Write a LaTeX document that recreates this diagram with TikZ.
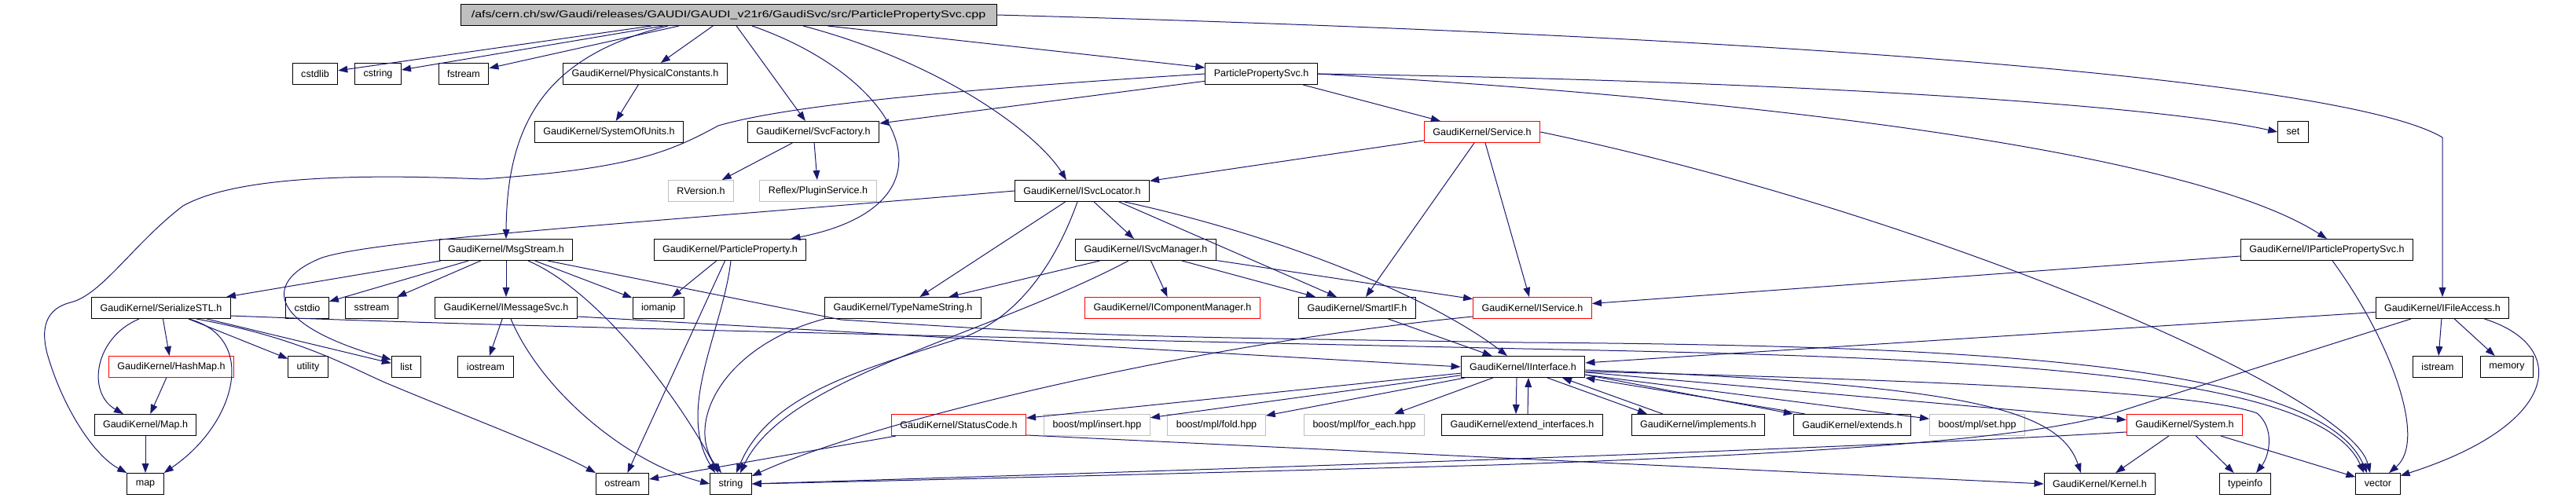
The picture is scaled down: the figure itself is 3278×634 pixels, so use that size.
\documentclass[tikz,border=0pt]{standalone}
\usepackage{fontspec}
\setmainfont{Liberation Sans}
\usepackage{tikz}
\usetikzlibrary{arrows.meta,calc}
\definecolor{EdgeBlue}{RGB}{25,25,112}
\definecolor{BoxGray}{RGB}{191,191,191}
\definecolor{TruncRed}{RGB}{255,0,0}

\begin{document}
\begin{tikzpicture}[
x=0.75pt,y=-0.75pt,
hfile/.style={draw=black,line width=0.75pt,fill=white,minimum height=20.25pt,inner xsep=8.25pt,inner ysep=0pt,font=\fontsize{9.4}{11}\selectfont},
hred/.style={hfile,draw=TruncRed},
hgray/.style={hfile,draw=BoxGray},
hroot/.style={hfile,fill=BoxGray,minimum width=511.5pt},
dep/.style={-{Triangle[length=9pt,width=6.5pt]},draw=EdgeBlue,fill=none,line width=0.75pt}
]
\useasboundingbox (0,0) rectangle (3278,634);

% row 0 and 1
\node[hroot] (root) at (927,19) {\scalebox{1.28}[1]{/afs/cern.ch/sw/Gaudi/releases/GAUDI/GAUDI\_v21r6/GaudiSvc/src/ParticlePropertySvc.cpp}};
\node[hfile] (cstdlib) at (401,94) {cstdlib};
\node[hfile] (cstring) at (481,94) {cstring};
\node[hfile] (fstream) at (590,94) {fstream};
\node[hfile] (physconst) at (821,94) {GaudiKernel/PhysicalConstants.h};
\node[hfile] (ppsvch) at (1605,94) {ParticlePropertySvc.h};
% row 2 and 3
\node[hfile] (sysunits) at (775,168) {GaudiKernel/SystemOfUnits.h};
\node[hfile] (svcfactory) at (1035,168) {GaudiKernel/SvcFactory.h};
\node[hred] (service) at (1886,168) {GaudiKernel/Service.h};
\node[hfile] (setn) at (2918,168) {set};
\node[hgray] (rversion) at (892,243) {RVersion.h};
\node[hgray] (pluginsvc) at (1041,243) {Reflex/PluginService.h};
\node[hfile] (isvcloc) at (1377,243) {GaudiKernel/ISvcLocator.h};
% row 4
\node[hfile] (msgstream) at (644,318) {GaudiKernel/MsgStream.h};
\node[hfile] (partprop) at (929,318) {GaudiKernel/ParticleProperty.h};
\node[hfile] (isvcmgr) at (1458,318) {GaudiKernel/ISvcManager.h};
\node[hfile] (ippsvc) at (2961,318) {GaudiKernel/IParticlePropertySvc.h};
% row 5
\node[hfile] (serialize) at (205,392) {GaudiKernel/SerializeSTL.h};
\node[hfile] (cstdio) at (391,392) {cstdio};
\node[hfile] (sstream) at (473,392) {sstream};
\node[hfile] (imsgsvc) at (644,392) {GaudiKernel/IMessageSvc.h};
\node[hfile] (iomanip) at (838,392) {iomanip};
\node[hfile] (typename) at (1149,392) {GaudiKernel/TypeNameString.h};
\node[hred] (icompmgr) at (1492,392) {GaudiKernel/IComponentManager.h};
\node[hfile] (smartif) at (1727,392) {GaudiKernel/SmartIF.h};
\node[hred] (iservice) at (1950,392) {GaudiKernel/IService.h};
\node[hfile] (ifileacc) at (3108,392) {GaudiKernel/IFileAccess.h};
% row 6
\node[hred] (hashmap) at (218,467) {GaudiKernel/HashMap.h};
\node[hfile] (utility) at (392,467) {utility};
\node[hfile] (listn) at (517,467) {list};
\node[hfile] (iostream) at (618,467) {iostream};
\node[hfile] (iinterface) at (1938,467) {GaudiKernel/IInterface.h};
\node[hfile] (istream) at (3102,467) {istream};
\node[hfile] (memory) at (3190,467) {memory};
% row 7
\node[hfile] (maph) at (185,541) {GaudiKernel/Map.h};
\node[hred] (statuscode) at (1220,541) {GaudiKernel/StatusCode.h};
\node[hgray] (insert) at (1396,541) {boost/mpl/insert.hpp};
\node[hgray] (fold) at (1548,541) {boost/mpl/fold.hpp};
\node[hgray] (foreach) at (1736,541) {boost/mpl/for\_each.hpp};
\node[hfile] (extendif) at (1937,541) {GaudiKernel/extend\_interfaces.h};
\node[hfile] (implements) at (2161,541) {GaudiKernel/implements.h};
\node[hfile] (extends) at (2357,541) {GaudiKernel/extends.h};
\node[hgray] (mplset) at (2516,541) {boost/mpl/set.hpp};
\node[hred] (system) at (2780,541) {GaudiKernel/System.h};
% row 8
\node[hfile] (mapn) at (185,616) {map};
\node[hfile] (ostream) at (792,616) {ostream};
\node[hfile] (stringn) at (930,616) {string};
\node[hfile] (kernel) at (2672,616) {GaudiKernel/Kernel.h};
\node[hfile] (typeinfo) at (2857,616) {typeinfo};
\node[hfile] (vector) at (3026,616) {vector};

% includes of the source file
\draw[dep] (root) -- (cstdlib);
\draw[dep] (root) -- (cstring);
\draw[dep] (root) -- (fstream);
\draw[dep] (root) -- (physconst);
\draw[dep] (root) -- (svcfactory);
\draw[dep] (root) -- (ppsvch);
\draw[dep] (root.-25) .. controls (1150,100) and (1230,260) .. ($(partprop.north east)+(-20,0)$);
\draw[dep] ($(root.south)+(95,0)$) .. controls (1200,80) and (1320,170) .. ($(isvcloc.north)+(-20,0)$);
\draw[dep] ($(root.south)+(-77,0)$) .. controls (700,70) and (645,150) .. (msgstream.north);
\draw[dep] (root.east) .. controls (2400,50) and (3000,110) .. (3108,175) -- (ifileacc.north);

% ParticlePropertySvc.h
\draw[dep] (ppsvch.west) .. controls (1200,115) and (1000,135) .. (914,160) .. controls (850,195) and (800,215) .. (614,228) .. controls (450,221) and (300,225) .. (233,262) .. controls (170,310) and (130,375) .. (90,385) .. controls (50,395) and (55,430) .. (60,450) .. controls (80,520) and (120,580) .. (mapn.north west);
\draw[dep] (ppsvch) -- (svcfactory);
\draw[dep] (ppsvch) -- (service);
\draw[dep] (ppsvch.east) .. controls (2300,103) and (2750,135) .. (setn.west);
\draw[dep] (ppsvch.east) .. controls (2300,130) and (2800,200) .. (ippsvc.north);

\draw[dep] (physconst) -- (sysunits);
\draw[dep] (svcfactory) -- (rversion);
\draw[dep] (svcfactory) -- (pluginsvc);

% Service.h
\draw[dep] (service) -- (isvcloc);
\draw[dep] ($(service.south)+(-10,0)$) -- ($(smartif.north)+(11,0)$);
\draw[dep] (service) -- (iservice);
\draw[dep] (service.east) .. controls (2450,270) and (2990,500) .. ($(vector.north)+(-10,0)$);

% ISvcLocator.h
\draw[dep] (isvcloc.west) .. controls (800,285) and (480,305) .. (410,328) .. controls (340,355) and (330,410) .. ($(listn.north west)+(0,5)$);
\draw[dep] (isvcloc) -- (typename);
\draw[dep] ($(isvcloc.south)+(-6,0)$) .. controls (1345,330) and (1300,400) .. (1230,428) .. controls (1100,470) and (980,500) .. ($(stringn.north)+(7,0)$);
\draw[dep] (isvcloc) -- (isvcmgr);
\draw[dep] ($(isvcloc.south)+(47,0)$) -- ($(smartif.north)+(-26,0)$);
\draw[dep] ($(isvcloc.south)+(54,0)$) .. controls (1650,305) and (1830,385) .. ($(iinterface.north)+(-20,0)$);

% MsgStream.h
\draw[dep] (msgstream) -- (serialize);
\draw[dep] (msgstream) -- (cstdio);
\draw[dep] (msgstream) -- (sstream);
\draw[dep] (msgstream) -- (imsgsvc);
\draw[dep] (msgstream) -- (iomanip);
\draw[dep] ($(msgstream.south)+(28,0)$) .. controls (760,370) and (860,500) .. ($(stringn.north)+(-16,0)$);
\draw[dep] ($(msgstream.south)+(53,0)$) -- (1070,407) .. controls (1400,428) .. (1938,436) .. controls (2500,440) and (2950,460) .. ($(vector.north)+(-14,0)$);

\draw[dep] (imsgsvc) -- (iostream);
\draw[dep] ($(imsgsvc.south)+(6,0)$) .. controls (690,500) and (800,590) .. (stringn.west);
\draw[dep] ($(imsgsvc.south east)+(0,-3)$) -- (iinterface.west);

\draw[dep] (partprop) -- (iomanip);
\draw[dep] (partprop) -- (ostream);
\draw[dep] ($(partprop.south)+(1,0)$) .. controls (920,420) and (860,520) .. ($(stringn.north)+(-20,0)$);

% ISvcManager.h
\draw[dep] (isvcmgr) -- (typename);
\draw[dep] ($(isvcmgr.south)+(-22,0)$) .. controls (1250,430) and (1000,480) .. ($(stringn.north)+(12,0)$);
\draw[dep] (isvcmgr) -- (icompmgr);
\draw[dep] ($(isvcmgr.south)+(46,0)$) -- ($(smartif.north)+(-53,0)$);
\draw[dep] (isvcmgr) -- (iservice);

\draw[dep] (typename.south west) .. controls (920,440) and (870,540) .. ($(stringn.north)+(-12,0)$);
\draw[dep] ($(iservice.south west)+(0,-3)$) .. controls (1500,440) and (1100,540) .. ($(stringn.north east)+(0,4)$);
\draw[dep] (smartif) -- (iinterface);

% IInterface.h
\draw[dep] (iinterface) -- (statuscode);
\draw[dep] (iinterface) -- (insert);
\draw[dep] (iinterface) -- (fold);
\draw[dep] (iinterface) -- (foreach);
\draw[dep] ($(iinterface.south)+(-8,0)$) -- ($(extendif.north)+(-8,0)$);
\draw[dep] ($(extendif.north)+(7,0)$) -- ($(iinterface.south)+(7,0)$);
\draw[dep] ($(iinterface.south)+(31,0)$) -- ($(implements.north)+(-65,0)$);
\draw[dep] ($(implements.north)+(-45,0)$) -- ($(iinterface.south)+(50,0)$);
\draw[dep] ($(iinterface.south east)+(0,-4)$) -- (extends.north west);
\draw[dep] ($(extends.north west)+(15,0)$) -- (iinterface.south east);
\draw[dep] (iinterface) -- (mplset);
\draw[dep] (iinterface) -- (system);
\draw[dep] ($(iinterface.east)+(0,4)$) .. controls (2500,490) and (2620,520) .. ($(kernel.north)+(-24,0)$);
\draw[dep] ($(iinterface.east)+(0,6)$) .. controls (2500,485) and (2800,500) .. (2872,526) .. controls (2895,545) and (2888,580) .. ($(typeinfo.north)+(14,0)$);

\draw[dep] (statuscode) -- (ostream);
\draw[dep] ($(statuscode.south east)+(0,-1)$) -- (kernel.west);

% System.h
\draw[dep] (system) -- (kernel);
\draw[dep] (system) -- (typeinfo);
\draw[dep] (system) -- (vector);
\draw[dep] ($(system.south west)+(0,-5)$) .. controls (2300,575) and (1300,605) .. (stringn.east);

% IFileAccess.h
\draw[dep] (ifileacc) -- (iinterface);
\draw[dep] (ifileacc) -- (istream);
\draw[dep] (ifileacc) -- (memory);
\draw[dep] ($(ifileacc.south)+(-40,0)$) -- (2690,526) .. controls (2580,560) and (2300,578) .. (1900,592) .. controls (1500,603) and (1100,613) .. (stringn.east);
\draw[dep] ($(ifileacc.south east)+(-32,0)$) .. controls (3270,440) and (3260,540) .. (vector.20);

\draw[dep] (ippsvc) -- (iservice);
\draw[dep] ($(ippsvc.south)+(7,0)$) .. controls (3040,430) and (3090,560) .. ($(vector.north)+(14,0)$);

% SerializeSTL.h
\draw[dep] (serialize) -- (hashmap);
\draw[dep] ($(serialize.south)+(-28,0)$) .. controls (120,430) and (110,500) .. ($(maph.north)+(-28,0)$);
\draw[dep] ($(serialize.south)+(35,0)$) .. controls (330,430) and (300,540) .. (mapn.north east);
\draw[dep] (serialize) -- (utility);
\draw[dep] (serialize) -- (listn);
\draw[dep] ($(serialize.south)+(45,0)$) .. controls (380,430) and (440,465) .. (490,487) .. controls (580,525) and (700,570) .. (ostream.north west);
\draw[dep] ($(serialize.south east)+(0,-4)$) .. controls (700,418) and (1400,432) .. (1938,444) .. controls (2500,455) and (2950,470) .. ($(vector.north)+(-18,0)$);

\draw[dep] (hashmap) -- (maph);
\draw[dep] (maph) -- (mapn);
\end{tikzpicture}
\end{document}
